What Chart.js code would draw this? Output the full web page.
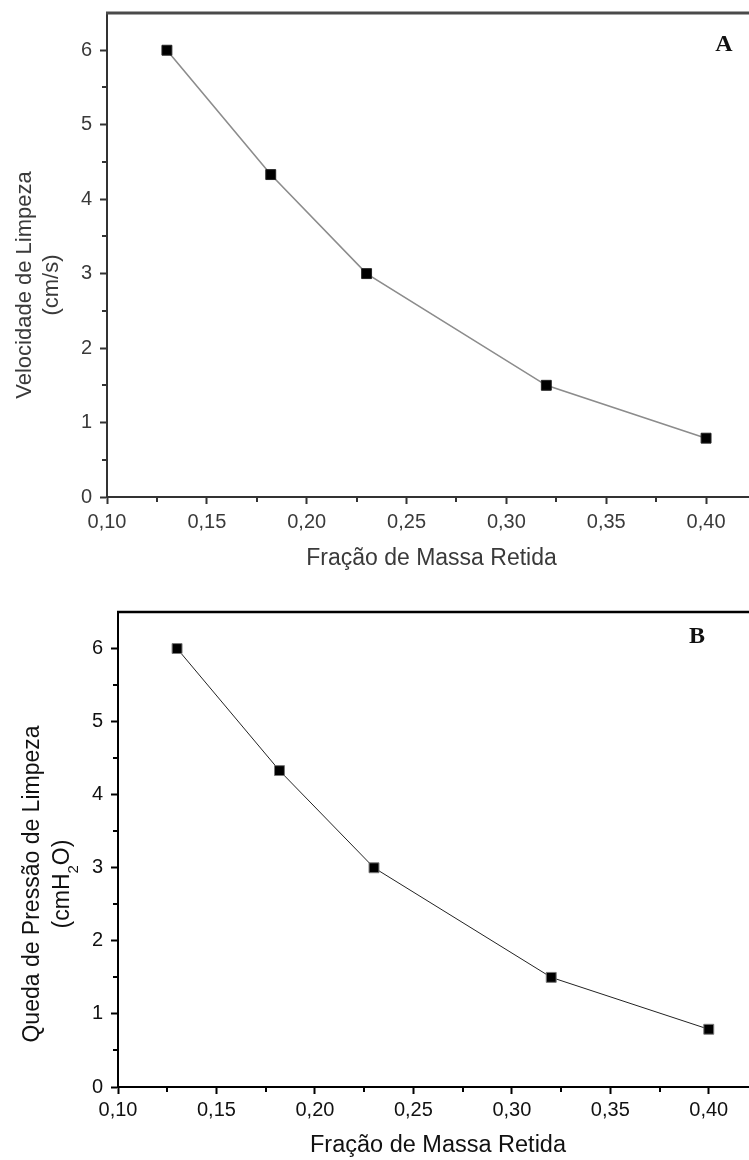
<!DOCTYPE html>
<html><head><meta charset="utf-8">
<script src="https://cdn.jsdelivr.net/npm/chart.js@4.4.0/dist/chart.umd.min.js"></script>
<style>
html,body{margin:0;padding:0;background:#fff;overflow:hidden;}
#wrap{position:relative;width:749px;height:1160px;overflow:hidden;background:#fff;}
canvas{position:absolute;left:0;}
</style></head><body>
<div id="wrap">
<canvas id="cA" width="800" height="580" style="top:0px"></canvas>
<canvas id="cB" width="800" height="580" style="top:580px"></canvas>
</div>
<script>
// ---- data ----
const massFraction = [0.13, 0.182, 0.23, 0.32, 0.40];
const cleaningVelocity = [6.0, 4.33, 3.0, 1.5, 0.79];
const cleaningPressureDrop = [6.0, 4.33, 3.0, 1.5, 0.79];
const xTickValues = [0.10, 0.15, 0.20, 0.25, 0.30, 0.35, 0.40];
const xMinorTickValues = [0.125, 0.175, 0.225, 0.275, 0.325, 0.375, 0.425];
const yTickValues = [0, 1, 2, 3, 4, 5, 6];
const yMinorTickValues = [0.5, 1.5, 2.5, 3.5, 4.5, 5.5];
const xTitle = 'Fração de Massa Retida';
const yTitleA = ['Velocidade de Limpeza', '(cm/s)'];
const yTitleB = ['Queda de Pressão de Limpeza', '(cmH', '2', 'O)'];
const panelA = 'A';
const panelB = 'B';

const SANS = '"Liberation Sans", Arial, sans-serif';
const SERIF = '"Liberation Serif", "Times New Roman", serif';

const decor = {
  id: 'decor',
  afterDraw(chart, args, o) {
    const ctx = chart.ctx, ca = chart.chartArea;
    const xs = chart.scales.x, ys = chart.scales.y;
    ctx.save();
    // top / right frame
    ctx.strokeStyle = o.frameColor; ctx.lineWidth = o.frameWidth;
    ctx.beginPath();
    ctx.moveTo(ca.left - 1, ca.top); ctx.lineTo(ca.right, ca.top); ctx.lineTo(ca.right, ca.bottom);
    ctx.stroke();
    // minor ticks
    ctx.strokeStyle = o.axisColor; ctx.lineWidth = 2;
    ctx.beginPath();
    xMinorTickValues.forEach(v => {
      const px = Math.round(xs.getPixelForValue(v));
      ctx.moveTo(px, ca.bottom); ctx.lineTo(px, ca.bottom + o.minorLen);
    });
    yMinorTickValues.forEach(v => {
      const py = Math.round(ys.getPixelForValue(v));
      ctx.moveTo(ca.left, py); ctx.lineTo(ca.left - o.minorLen, py);
    });
    ctx.stroke();
    // y title
    ctx.fillStyle = o.textColor;
    ctx.textBaseline = 'middle';
    const font = o.yFontSize + 'px ' + SANS;
    const subFont = o.subFontSize + 'px ' + SANS;
    ctx.save();
    ctx.translate(o.y1x, o.yCenter); ctx.rotate(-Math.PI / 2);
    ctx.font = font; ctx.textAlign = 'center';
    ctx.fillText(o.yTitle[0], 0, 0);
    ctx.restore();
    ctx.save();
    ctx.translate(o.y2x, o.yCenter); ctx.rotate(-Math.PI / 2);
    if (o.yTitle.length === 2) {
      ctx.font = font; ctx.textAlign = 'center';
      ctx.fillText(o.yTitle[1], 0, 0);
    } else {
      ctx.textAlign = 'left';
      ctx.font = font;
      const w1 = ctx.measureText(o.yTitle[1]).width;
      const w3 = ctx.measureText(o.yTitle[3]).width;
      ctx.font = subFont;
      const w2 = ctx.measureText(o.yTitle[2]).width;
      let sx = -(w1 + w2 + w3) / 2;
      ctx.font = font; ctx.fillText(o.yTitle[1], sx, 0); sx += w1;
      ctx.font = subFont; ctx.fillText(o.yTitle[2], sx, o.subShift); sx += w2;
      ctx.font = font; ctx.fillText(o.yTitle[3], sx, 0);
    }
    ctx.restore();
    // panel letter
    ctx.font = 'bold ' + o.panelSize + 'px ' + SERIF;
    ctx.textAlign = 'center'; ctx.textBaseline = 'middle';
    ctx.fillStyle = '#111';
    ctx.fillText(o.panel, o.panelX, o.panelY);
    ctx.restore();
  }
};

function makeChart(id, values, c) {
  return new Chart(document.getElementById(id), {
    type: 'line',
    data: {
      datasets: [{
        data: massFraction.map((x, i) => ({ x: x, y: values[i] })),
        borderColor: c.lineColor, borderWidth: c.lineWidth,
        pointStyle: 'rect', pointRadius: 7, pointHoverRadius: 7,
        pointBackgroundColor: '#000', pointBorderColor: c.pointBorder, pointBorderWidth: 1,
        tension: 0, fill: false, clip: false
      }]
    },
    options: {
      responsive: false, animation: false, events: [],
      layout: { padding: { left: 0, top: c.top, right: c.right, bottom: 0 } },
      plugins: {
        legend: { display: false }, tooltip: { enabled: false },
        decor: c.decor
      },
      scales: {
        x: {
          type: 'linear', position: 'bottom', min: 0.10, max: 0.425,
          afterFit: s => { s.height = c.xHeight; s.paddingLeft = 0; s.paddingRight = 0; },
          afterBuildTicks: s => { s.ticks = xTickValues.map(v => ({ value: v })); },
          ticks: {
            autoSkip: false, maxRotation: 0, minRotation: 0, padding: c.xPad,
            color: c.text, font: { family: SANS, size: 20 },
            callback: v => Number(v).toFixed(2).replace('.', ',')
          },
          grid: { drawOnChartArea: false, drawTicks: true, tickLength: 7, tickWidth: 2, tickColor: c.axis },
          border: { display: true, color: c.axis, width: 2 },
          title: { display: true, text: xTitle, color: c.text, font: { family: SANS, size: c.xTitleSize }, padding: { top: 0, bottom: c.xTitlePad } }
        },
        y: {
          type: 'linear', position: 'left', min: 0, max: 6.5,
          afterFit: s => { s.width = c.left; s.paddingTop = 0; s.paddingBottom = 0; },
          afterBuildTicks: s => { s.ticks = yTickValues.map(v => ({ value: v })); },
          ticks: {
            autoSkip: false, padding: 8, color: c.text, font: { family: SANS, size: 20 },
            callback: v => String(v)
          },
          grid: { drawOnChartArea: false, drawTicks: true, tickLength: 7, tickWidth: 2, tickColor: c.axis },
          border: { display: true, color: c.axis, width: 2 }
        }
      }
    },
    plugins: [decor]
  });
}

makeChart('cA', cleaningVelocity, {
  lineColor: '#8c8c8c', lineWidth: 1.6, pointBorder: '#222',
  top: 13, right: 44, left: 107, xHeight: 83, xPad: 6,
  text: '#3a3a3a', axis: '#333', xTitleSize: 23, xTitlePad: 8,
  decor: {
    frameColor: '#4a4a4a', frameWidth: 3, axisColor: '#333', minorLen: 5,
    textColor: '#3a3a3a', yFontSize: 22, subFontSize: 14, subShift: 10,
    yTitle: yTitleA, y1x: 25, y2x: 52, yCenter: 285,
    panel: panelA, panelX: 724, panelY: 45, panelSize: 24
  }
});

makeChart('cB', cleaningPressureDrop, {
  lineColor: '#222', lineWidth: 1, pointBorder: '#777',
  top: 32, right: 42, left: 118, xHeight: 73, xPad: 4,
  text: '#111', axis: '#000', xTitleSize: 23.5, xTitlePad: 0,
  decor: {
    frameColor: '#000', frameWidth: 2.5, axisColor: '#000', minorLen: 5,
    textColor: '#111', yFontSize: 23, subFontSize: 15, subShift: 11,
    yTitle: yTitleB, y1x: 33, y2x: 63, yCenter: 304,
    panel: panelB, panelX: 697, panelY: 57, panelSize: 24
  }
});
</script>
</body></html>
